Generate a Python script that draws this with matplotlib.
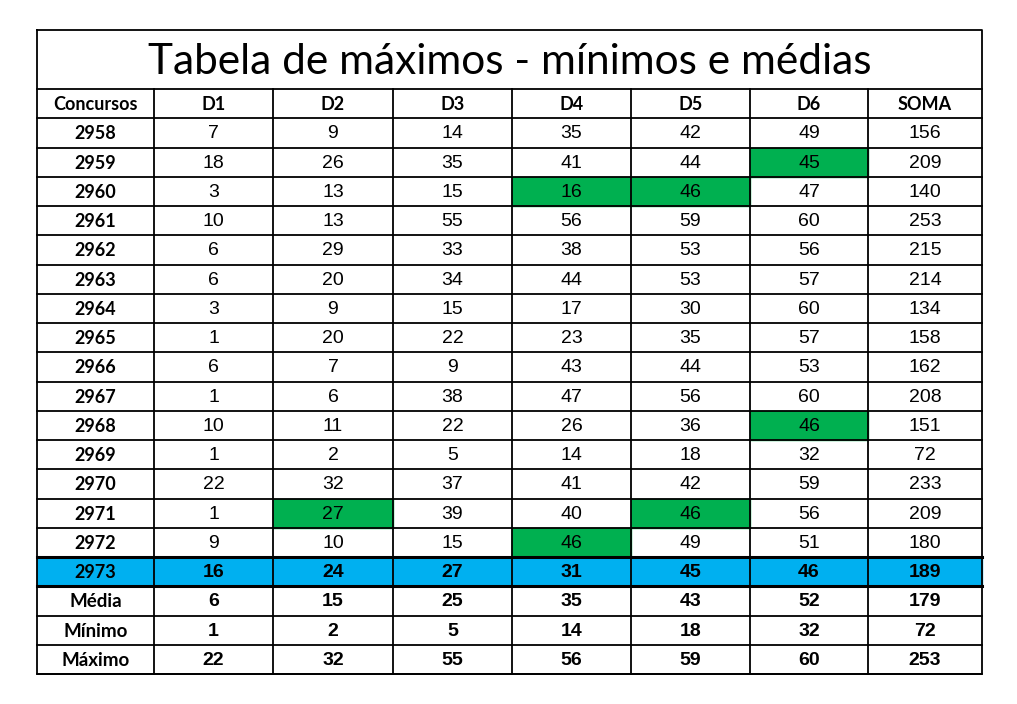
import matplotlib
matplotlib.use("Agg")
import matplotlib.pyplot as plt
from matplotlib.patches import Rectangle

title = "Tabela de máximos - mínimos e médias"
headers = ["Concursos", "D1", "D2", "D3", "D4", "D5", "D6", "SOMA"]
concursos = list(range(2958, 2974))
D1 = [7, 18, 3, 10, 6, 6, 3, 1, 6, 1, 10, 1, 22, 1, 9, 16]
D2 = [9, 26, 13, 13, 29, 20, 9, 20, 7, 6, 11, 2, 32, 27, 10, 24]
D3 = [14, 35, 15, 55, 33, 34, 15, 22, 9, 38, 22, 5, 37, 39, 15, 27]
D4 = [35, 41, 16, 56, 38, 44, 17, 23, 43, 47, 26, 14, 41, 40, 46, 31]
D5 = [42, 44, 46, 59, 53, 53, 30, 35, 44, 56, 36, 18, 42, 46, 49, 45]
D6 = [49, 45, 47, 60, 56, 57, 60, 57, 53, 60, 46, 32, 59, 56, 51, 46]
SOMA = [156, 209, 140, 253, 215, 214, 134, 158, 162, 208, 151, 72, 233, 209, 180, 189]
summary_labels = ["Média", "Mínimo", "Máximo"]
media = [6, 15, 25, 35, 43, 52, 179]
minimo = [1, 2, 5, 14, 18, 32, 72]
maximo = [22, 32, 55, 56, 59, 60, 253]
# highlighted cells: (row index, column index 1..7)
green_cells = [(1, 6), (2, 4), (2, 5), (10, 6), (13, 2), (13, 5), (14, 4)]
blue_row = 15

cols = [D1, D2, D3, D4, D5, D6, SOMA]
xe = [37, 154, 273, 393, 512, 631, 750, 868, 982]
top, title_bot, bottom = 30, 89, 674
nrows = 1 + len(concursos) + 3
rh = (bottom - title_bot) / nrows
ye = [title_bot + i * rh for i in range(nrows + 1)]

fig = plt.figure(figsize=(10.17, 7.04), dpi=100)
ax = fig.add_axes([0, 0, 1, 1])
ax.set_xlim(0, 1017); ax.set_ylim(704, 0); ax.axis("off")

GREEN = "#00B050"; BLUE = "#00B0F0"
for r, c in green_cells:
    ax.add_patch(Rectangle((xe[c], ye[r + 1]), xe[c + 1] - xe[c], rh, color=GREEN, zorder=1))
ax.add_patch(Rectangle((xe[0], ye[blue_row + 1]), xe[-1] - xe[0], rh, color=BLUE, zorder=1))

ax.text((xe[0] + xe[-1]) / 2, (top + title_bot) / 2 + 2, title, ha="center", va="center",
        fontsize=30.5, family="Lato")

def cell(r, c, s, bold=False, fam="Liberation Sans", fs=14):
    ax.text((xe[c] + xe[c + 1]) / 2, (ye[r] + ye[r + 1]) / 2 + 1, s, ha="center", va="center",
            fontsize=fs, fontweight="bold" if bold else "normal", family=fam, zorder=3)

for c, h in enumerate(headers):
    cell(0, c, h, bold=True, fam="Lato", fs=13)
for i, k in enumerate(concursos):
    b = i == blue_row
    cell(i + 1, 0, str(k), bold=True, fam="Lato", fs=13)
    for j, col in enumerate(cols):
        cell(i + 1, j + 1, str(col[i]), bold=b)
for i, (lab, vals) in enumerate(zip(summary_labels, [media, minimo, maximo])):
    r = 1 + len(concursos) + i
    cell(r, 0, lab, bold=True, fam="Lato", fs=13.5)
    for j, v in enumerate(vals):
        cell(r, j + 1, str(v), bold=True)

lw = 1.3
ax.plot([xe[0], xe[-1], xe[-1], xe[0], xe[0]], [top, top, bottom, bottom, top], color="black", lw=lw, zorder=4)
for k, y in enumerate(ye):
    w = 2.2 if k in (blue_row + 1, blue_row + 2) else lw
    ax.plot([xe[0], xe[-1]], [y, y], color="black", lw=w, zorder=4)
for x in xe[1:-1]:
    ax.plot([x, x], [title_bot, bottom], color="black", lw=lw, zorder=4)

fig.savefig("out.png", dpi=100, facecolor="white")
